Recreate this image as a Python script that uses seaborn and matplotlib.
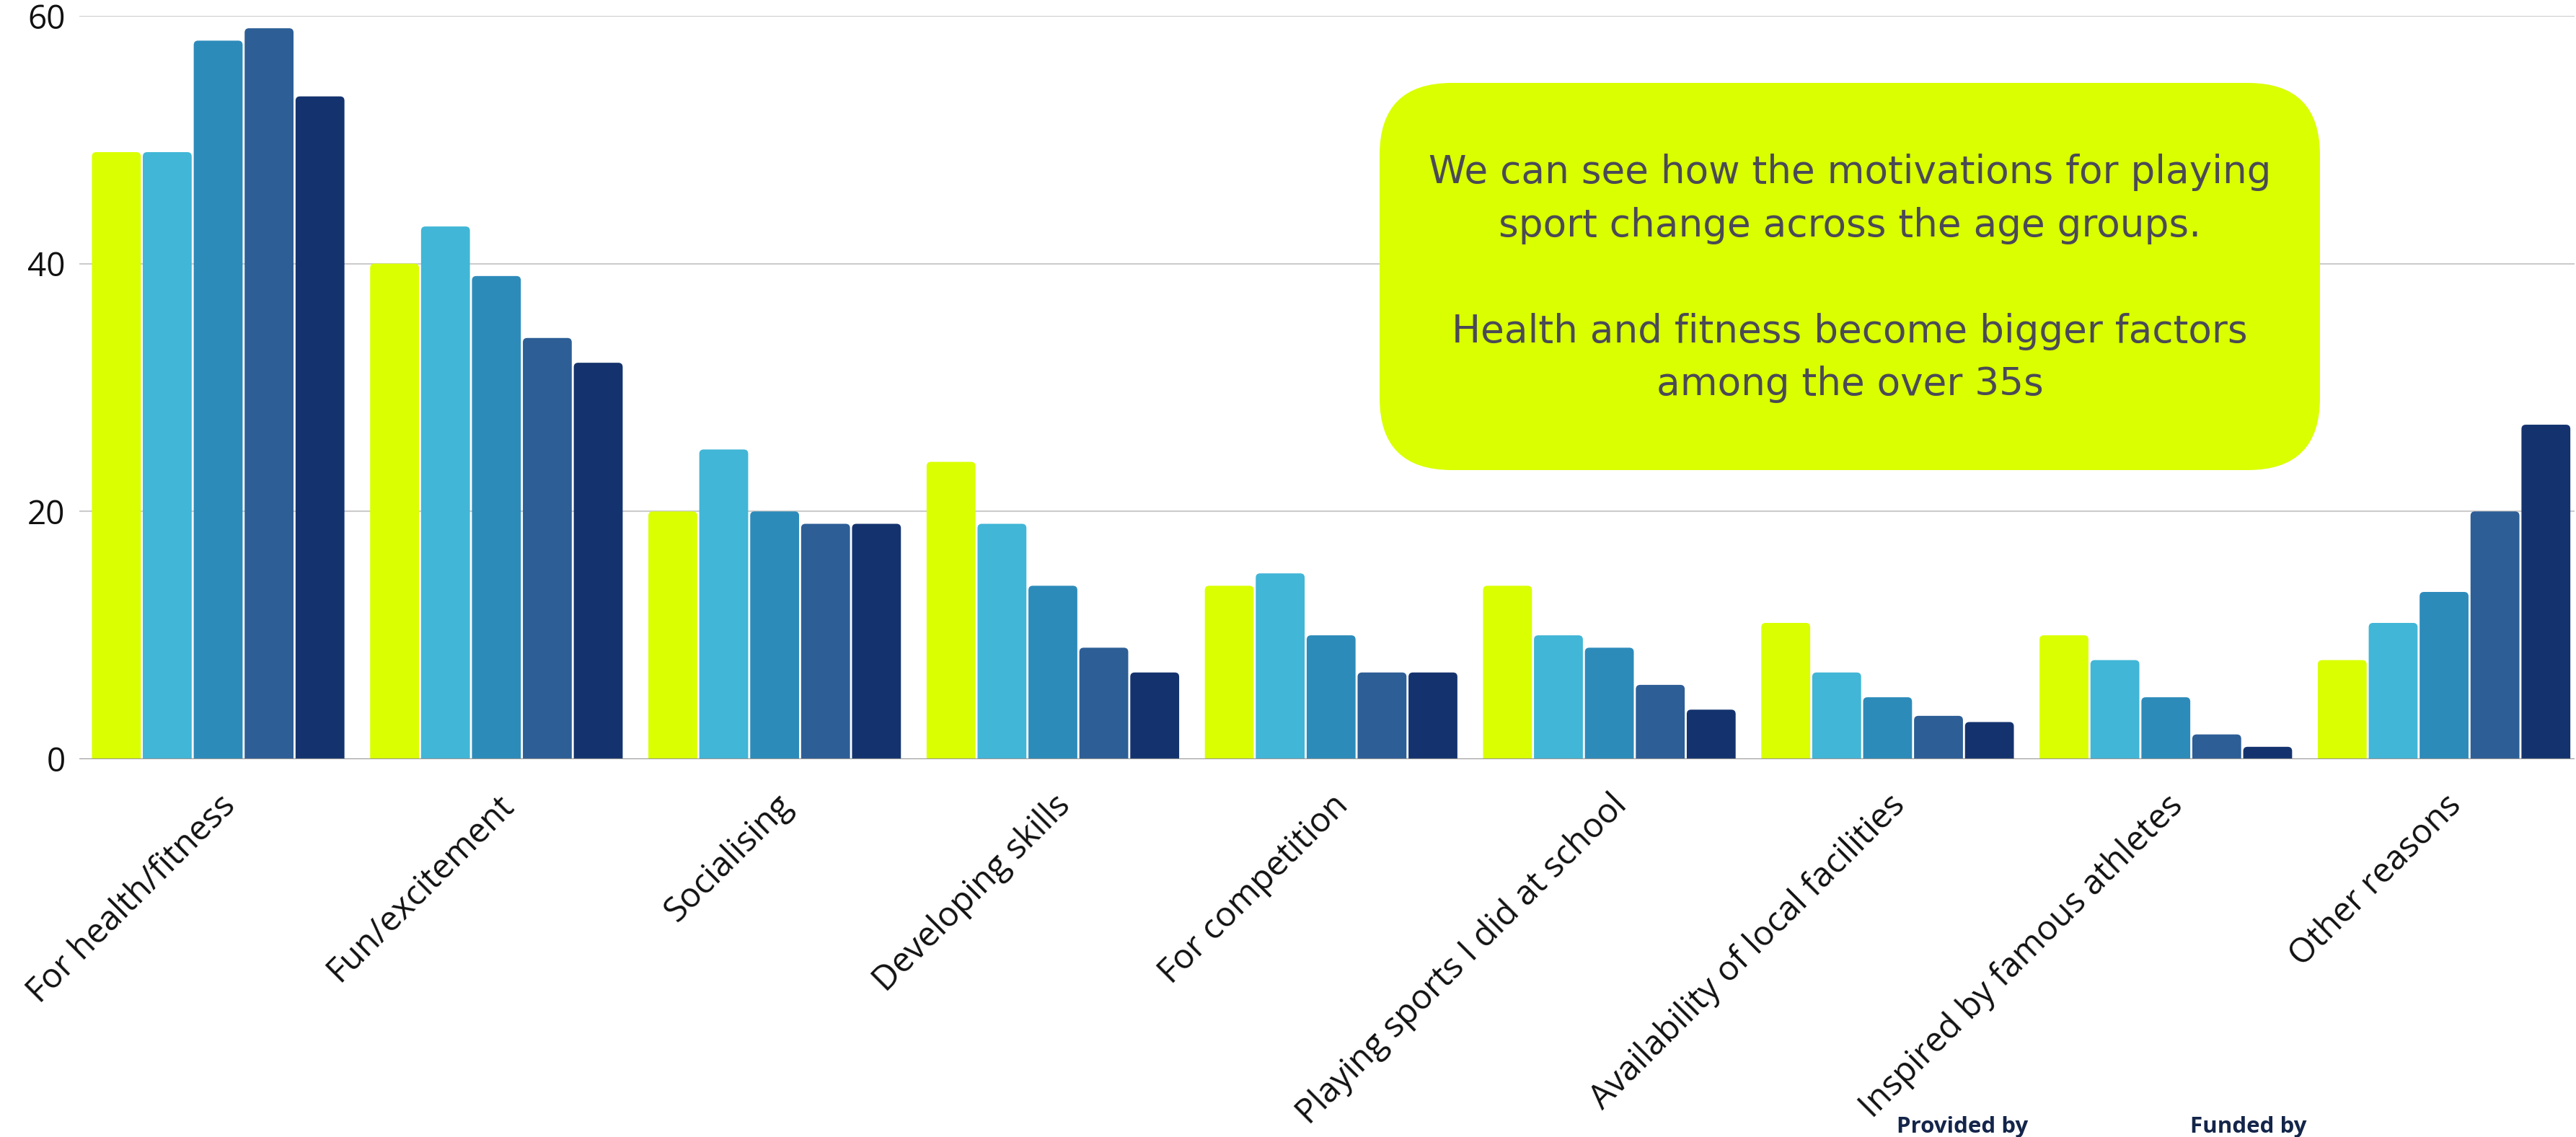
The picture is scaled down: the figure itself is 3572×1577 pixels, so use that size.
import matplotlib
matplotlib.use("Agg")
import matplotlib.pyplot as plt
from matplotlib.patches import FancyBboxPatch
import pandas as pd
import seaborn as sns

# Motivations for playing sport, % of respondents in each age band
reasons = [
    "For health/fitness",
    "Fun/excitement",
    "Socialising",
    "Developing skills",
    "For competition",
    "Playing sports I did at school",
    "Availability of local facilities",
    "Inspired by famous athletes",
    "Other reasons",
]
age_groups = ["16-24", "25-34", "35-44", "45-54", "55+"]

pct_16_24 = [49, 40, 20, 24, 14, 14, 11, 10, 8]
pct_25_34 = [49, 43, 25, 19, 15, 10, 7, 8, 11]
pct_35_44 = [58, 39, 20, 14, 10, 9, 5, 5, 13.5]
pct_45_54 = [59, 34, 19, 9, 7, 6, 3.5, 2, 20]
pct_55_plus = [53.5, 32, 19, 7, 7, 4, 3, 1, 27]

y_ticks = [0, 20, 40, 60]

note_lines = [
    "We can see how the motivations for playing",
    "sport change across the age groups.",
    "Health and fitness become bigger factors",
    "among the over 35s",
]

palette = ["#DAFF00", "#41B6D6", "#2D8BBA", "#2D5E96", "#14336E"]
lime = "#DAFF00"
note_color = "#4A4A56"
navy = "#14254A"

series = [pct_16_24, pct_25_34, pct_35_44, pct_45_54, pct_55_plus]
df = pd.DataFrame(
    [
        {"reason": r, "age": a, "pct": vals[i]}
        for a, vals in zip(age_groups, series)
        for i, r in enumerate(reasons)
    ]
)

sns.set_theme(style="white")
plt.rcParams["font.family"] = ["Open Sans", "DejaVu Sans"]

W, H = 3573, 1577
fig = plt.figure(figsize=(W / 100, H / 100), dpi=100)
ax = fig.add_axes([110 / W, (H - 1053) / H, (3570 - 110) / W, (1053 - 22) / H])

sns.barplot(
    data=df, x="reason", y="pct", hue="age", order=reasons, hue_order=age_groups,
    palette=palette, saturation=1, width=0.915, gap=0.04, errorbar=None,
    legend=False, ax=ax,
)

ax.set_xlim(-0.499, 8.469)
ax.set_ylim(0, 60)
ax.set_yticks(y_ticks)
ax.set_xlabel("")
ax.set_ylabel("")
for s in ax.spines.values():
    s.set_visible(False)
ax.set_axisbelow(True)
ax.yaxis.grid(True, color="#CCCCCC", linewidth=1.5)
ax.xaxis.grid(False)
ax.axhline(0, color="#999999", linewidth=1.6, zorder=4)

ax.tick_params(axis="y", length=0, pad=14, labelsize=33, labelcolor="#111111")
ax.tick_params(axis="x", length=0, pad=29, labelsize=34, labelcolor="#111111")
for lab in ax.get_xticklabels():
    lab.set_rotation(45)
    lab.set_ha("right")
    lab.set_va("top")
    lab.set_rotation_mode("anchor")

# Give each bar slightly rounded top corners
fig.canvas.draw()
p0 = ax.transData.transform((0, 0))
p1 = ax.transData.transform((1, 1))
px_x = p1[0] - p0[0]
px_y = p1[1] - p0[1]
r_px = 6
r_x = r_px / px_x
r_y = r_px / px_y
for rect in list(ax.patches):
    h = rect.get_height()
    if h <= 0:
        continue
    x, y = rect.get_xy()
    w = rect.get_width()
    fb = FancyBboxPatch(
        (x, y - r_y), w, h + r_y,
        boxstyle=f"round,pad=0,rounding_size={r_x}",
        mutation_aspect=r_y / r_x,
        facecolor=rect.get_facecolor(), edgecolor="none", zorder=2,
    )
    rect.remove()
    ax.add_patch(fb)

# Callout box with commentary
box = FancyBboxPatch(
    (19.13, (H - 652) / 100), 13.04, 5.37,
    boxstyle="round,pad=0,rounding_size=1.0",
    transform=fig.dpi_scale_trans, facecolor=lime, edgecolor="none", zorder=5,
)
fig.add_artist(box)
for line, base in zip(note_lines, [254, 328, 475, 548]):
    fig.text(25.65, (H - base) / 100, line, transform=fig.dpi_scale_trans,
             ha="center", va="baseline", fontsize=38.3, color=note_color,
             family=["DejaVu Sans"], zorder=6)

fig.text(26.30, (H - 1571) / 100, "Provided by", transform=fig.dpi_scale_trans,
         ha="left", va="baseline", fontsize=22.5, fontweight="bold", color=navy)
fig.text(30.37, (H - 1571) / 100, "Funded by", transform=fig.dpi_scale_trans,
         ha="left", va="baseline", fontsize=22.5, fontweight="bold", color=navy)

fig.savefig("out.png", dpi=100, facecolor="white")
